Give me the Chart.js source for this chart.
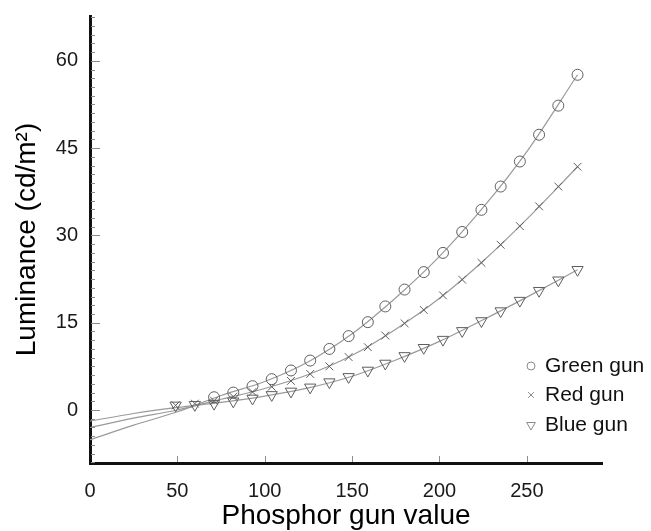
<!DOCTYPE html>
<html>
<head>
<meta charset="utf-8">
<script src="https://cdn.jsdelivr.net/npm/chart.js@4.4.1/dist/chart.umd.min.js"></script>
<style>
  html, body { margin: 0; padding: 0; background: #fff; }
</style>
</head>
<body>
<canvas id="chartCanvas" width="651" height="531"></canvas>
<script>
// ==========================================
// Data
// ==========================================
const gunValues = [49, 60, 71, 82, 93, 104, 115, 126, 137, 148, 159, 169, 180, 191, 202, 213, 224, 235, 246, 257, 268, 279];

const greenGun = [null, null, 2.2, 3.0, 4.1, 5.3, 6.8, 8.5, 10.5, 12.7, 15.1, 17.8, 20.7, 23.7, 27.0, 30.6, 34.4, 38.4, 42.7, 47.3, 52.3, 57.6];
const redGun   = [0.8, 1.1, 1.6, 2.3, 3.1, 4.0, 5.0, 6.2, 7.5, 9.1, 10.8, 12.8, 14.9, 17.2, 19.7, 22.4, 25.3, 28.4, 31.6, 35.0, 38.4, 41.8];
const blueGun  = [0.8, 0.9, 1.1, 1.5, 2.0, 2.6, 3.2, 3.9, 4.8, 5.7, 6.8, 8.0, 9.3, 10.7, 12.1, 13.6, 15.3, 17.0, 18.8, 20.5, 22.3, 24.1];

// fitted curves, read at these gun values
const fitX     = [0, 25, 50, 75, 100, 125, 150, 175, 200, 225, 250, 279];
const greenFit = [-5.1, -2.6, -0.3, 2.5, 4.9, 8.3, 13.1, 19.3, 26.4, 34.8, 44.4, 57.6];
const redFit   = [-3.0, -1.4, 0.0, 1.85, 3.7, 6.1, 9.4, 13.9, 19.2, 25.6, 32.8, 41.8];
const blueFit  = [-1.9, -0.6, 0.45, 1.3, 2.4, 3.8, 5.8, 8.6, 11.8, 15.5, 19.4, 24.1];

const xTicks = [0, 50, 100, 150, 200, 250];
const yTicks = [0, 15, 30, 45, 60];
const yMinorStep = 1.5;

const legendLabels = ["Green gun", "Red gun", "Blue gun"];

// ==========================================
// Helpers
// ==========================================
const markColor = "#5e5e5e";
const lineColor = "#9a9a9a";

function toPoints(xs, values) {
    const pts = [];
    values.forEach((v, i) => {
        if (v !== null) pts.push({ x: xs[i], y: v });
    });
    return pts;
}

const markerStyles = [
    { pointStyle: "circle", radius: 5.5, rotation: 0 },
    { pointStyle: "crossRot", radius: 5.5, rotation: 0 },
    { pointStyle: "triangle", radius: 6.5, rotation: 180 }
];

// ==========================================
// Extra drawing: inward tick marks + legend
// ==========================================
const gunExtras = {
    id: "gunExtras",
    afterDraw(chart) {
        const { ctx, chartArea, scales } = chart;
        const xs = scales.x, ys = scales.y;

        ctx.save();
        ctx.strokeStyle = "#8c8c8c";
        ctx.lineWidth = 1;

        // y ticks (minor every 1.5, major on labels)
        const first = Math.ceil(ys.min / yMinorStep);
        const last = Math.floor(ys.max / yMinorStep);
        for (let i = first; i <= last; i++) {
            const v = i * yMinorStep;
            const y = Math.round(ys.getPixelForValue(v)) + 0.5;
            const major = yTicks.includes(v);
            ctx.beginPath();
            ctx.moveTo(chartArea.left + 1, y);
            ctx.lineTo(chartArea.left + (major ? 10 : 5), y);
            ctx.stroke();
        }

        // x ticks
        xTicks.forEach(v => {
            if (v === 0) return;
            const x = Math.round(xs.getPixelForValue(v)) + 0.5;
            ctx.beginPath();
            ctx.moveTo(x, chartArea.bottom - 1);
            ctx.lineTo(x, chartArea.bottom - 7);
            ctx.stroke();
        });

        // legend
        const lx = 531, ly = [366, 395, 425];
        ctx.font = "21px 'Liberation Sans', Arial, sans-serif";
        ctx.textBaseline = "middle";
        ctx.textAlign = "left";
        legendLabels.forEach((label, i) => {
            ctx.strokeStyle = "#8a8a8a";
            ctx.fillStyle = "rgba(0,0,0,0)";
            Chart.helpers.drawPoint(ctx, {
                pointStyle: markerStyles[i].pointStyle,
                radius: markerStyles[i].radius - 1.5,
                rotation: markerStyles[i].rotation,
                borderWidth: 1
            }, lx, ly[i]);
            ctx.fillStyle = "#111";
            ctx.fillText(label, lx + 14, ly[i]);
        });
        ctx.restore();
    }
};

// ==========================================
// Chart setup
// ==========================================
Chart.defaults.font.family = "'Liberation Sans', Arial, sans-serif";
Chart.defaults.color = "#1a1a1a";

function markerSet(label, values, idx) {
    return {
        label: label,
        data: toPoints(gunValues, values),
        showLine: false,
        pointStyle: markerStyles[idx].pointStyle,
        pointRadius: markerStyles[idx].radius,
        pointRotation: markerStyles[idx].rotation,
        pointBorderColor: markColor,
        pointBackgroundColor: "rgba(0,0,0,0)",
        pointBorderWidth: 1,
        order: 1
    };
}

function lineSet(values) {
    return {
        label: "fit",
        data: toPoints(fitX, values),
        showLine: true,
        borderColor: lineColor,
        borderWidth: 1.2,
        pointRadius: 0,
        cubicInterpolationMode: "monotone",
        fill: false,
        order: 2
    };
}

const ctx = document.getElementById("chartCanvas").getContext("2d");

new Chart(ctx, {
    type: "scatter",
    data: {
        datasets: [
            lineSet(greenFit),
            lineSet(redFit),
            lineSet(blueFit),
            markerSet(legendLabels[0], greenGun, 0),
            markerSet(legendLabels[1], redGun, 1),
            markerSet(legendLabels[2], blueGun, 2)
        ]
    },
    options: {
        responsive: false,
        animation: false,
        layout: { padding: { top: 13, right: 49, bottom: 0, left: 0 } },
        plugins: {
            legend: { display: false },
            tooltip: { enabled: false }
        },
        scales: {
            x: {
                type: "linear",
                min: 0,
                max: 293,
                grid: { display: false },
                border: { display: true, width: 3, color: "#111" },
                afterBuildTicks: s => { s.ticks = xTicks.map(v => ({ value: v })); },
                afterFit: s => { s.height = 68; },
                ticks: { font: { size: 20 }, padding: 8, maxRotation: 0 },
                title: {
                    display: true,
                    text: "Phosphor gun value",
                    color: "#000",
                    font: { size: 28, lineHeight: 1 },
                    padding: { top: 0, bottom: 1 }
                }
            },
            y: {
                type: "linear",
                min: -9.1,
                max: 67.7,
                grid: { display: false },
                border: { display: true, width: 3, color: "#111" },
                afterBuildTicks: s => { s.ticks = yTicks.map(v => ({ value: v })); },
                afterFit: s => { s.width = 90; },
                ticks: { font: { size: 20 }, padding: 4 },
                title: {
                    display: true,
                    text: "Luminance (cd/m²)",
                    color: "#000",
                    font: { size: 28, lineHeight: 1.2 },
                    padding: { top: 10, bottom: 0 }
                }
            }
        }
    },
    plugins: [gunExtras]
});
</script>
</body>
</html>
